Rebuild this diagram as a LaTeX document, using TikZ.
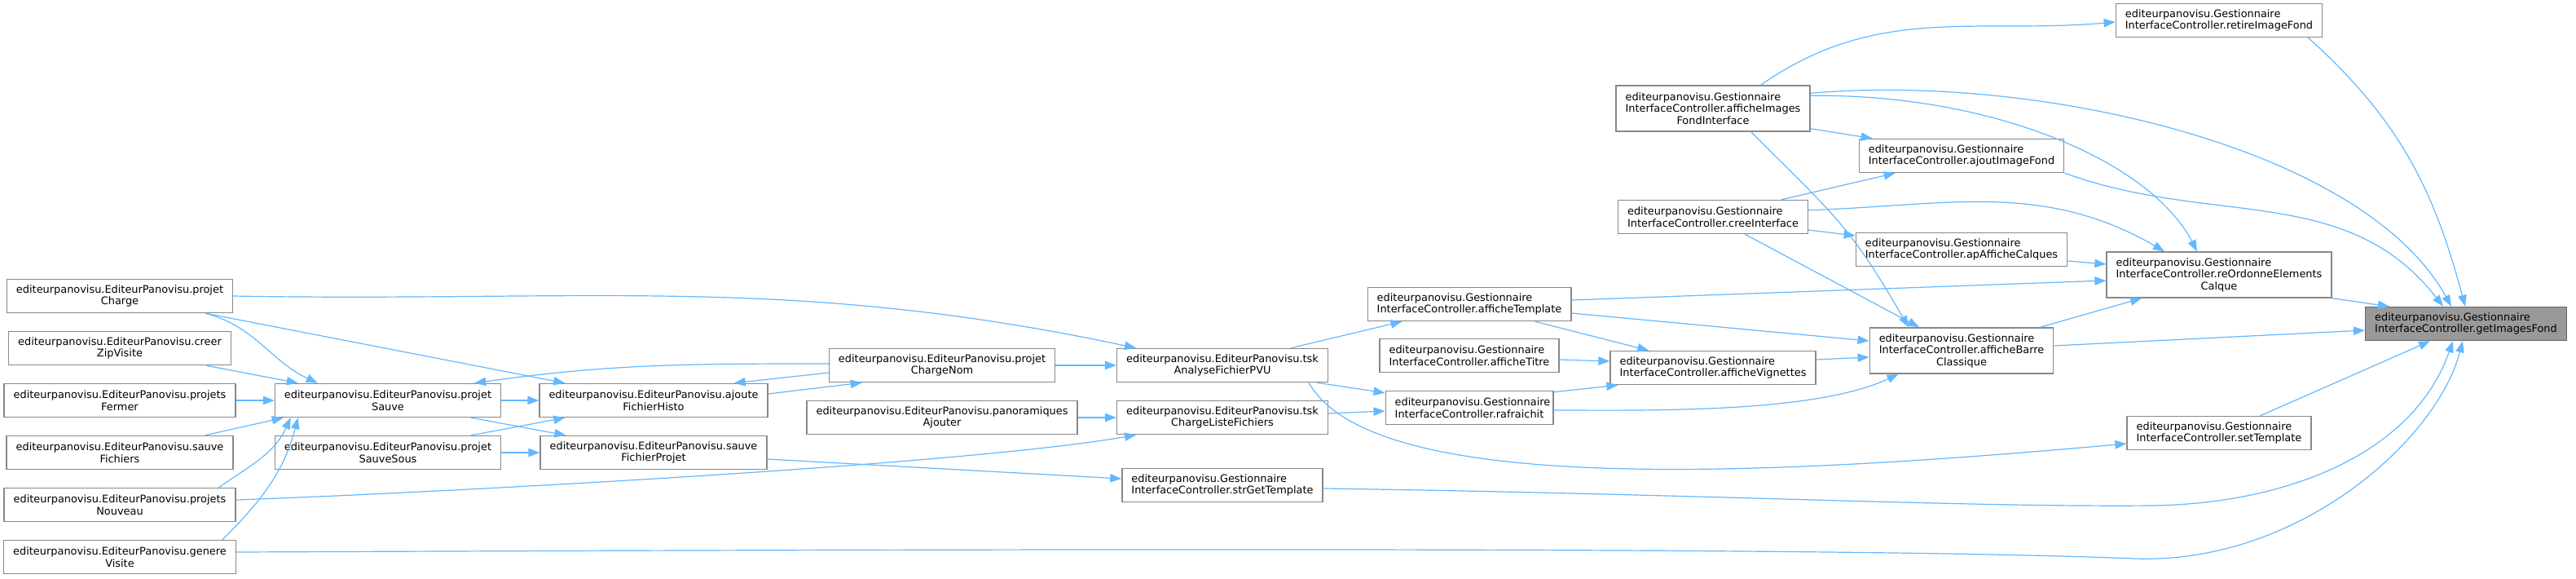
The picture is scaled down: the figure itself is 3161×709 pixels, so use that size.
\documentclass[tikz,border=0pt]{standalone}
\usepackage{fontspec}
\setmainfont{DejaVu Sans}
\usepackage{tikz}
\usetikzlibrary{arrows.meta, positioning, calc}

\definecolor{edgeblue}{HTML}{63B8FF}
\definecolor{nodeborder}{HTML}{888888}
\definecolor{targetborder}{HTML}{666666}
\definecolor{targetfill}{HTML}{999999}

% node labels: first lines left, last line centred
\newsavebox\lnbox
\newcommand\gic[1]{\global\setbox\lnbox=\hbox{InterfaceController.#1}\makebox[\wd\lnbox][l]{editeurpanovisu.Gestionnaire}\\\usebox\lnbox}
\newcommand\gicc[2]{\gic{#1}\\#2}
\newcommand\epv[2]{editeurpanovisu.EditeurPanovisu.#1\\#2}

\tikzset{
  fn/.style={draw=nodeborder, fill=white, line width=0.36pt, rectangle,
    inner xsep=2.875pt, inner ysep=1pt, minimum height=10.25pt, align=center,
    font=\fontsize{3.225pt}{3.625pt}\selectfont},
  fn3/.style={fn, minimum height=14pt},
  target/.style={fn, draw=targetborder, fill=targetfill},
  call/.style={draw=edgeblue, line width=0.3pt, -{Triangle[length=3.5pt,width=2.6pt]}}
}

\begin{document}
\begin{tikzpicture}[x=0.25pt,y=0.25pt]
            \useasboundingbox (0,0) rectangle (3161,-709);

            % Callers, first column
            \node[fn] (projetCharge) at (147,-363) {\epv{projet}{Charge}};
            \node[fn] (creerZipVisite) at (147,-427) {\epv{creer}{ZipVisite}};
            \node[fn] (projetsFermer) at (147,-491) {\epv{projets}{Fermer}};
            \node[fn] (sauveFichiers) at (147,-555) {\epv{sauve}{Fichiers}};
            \node[fn] (projetsNouveau) at (147,-619) {\epv{projets}{Nouveau}};
            \node[fn] (genereVisite) at (147,-683) {\epv{genere}{Visite}};

            % Save / history
            \node[fn] (projetSauve) at (476,-491) {\epv{projet}{Sauve}};
            \node[fn] (projetSauveSous) at (476,-555) {\epv{projet}{SauveSous}};
            \node[fn] (ajouteFichierHisto) at (802,-491) {\epv{ajoute}{FichierHisto}};
            \node[fn] (sauveFichierProjet) at (802,-555) {\epv{sauve}{FichierProjet}};
            \node[fn] (projetChargeNom) at (1156,-448) {\epv{projet}{ChargeNom}};
            \node[fn] (panoramiquesAjouter) at (1156,-512) {\epv{panoramiques}{Ajouter}};

            % Tasks
            \node[fn] (tskAnalyse) at (1500,-448) {\epv{tsk}{AnalyseFichierPVU}};
            \node[fn] (tskChargeListe) at (1500,-512) {\epv{tsk}{ChargeListeFichiers}};
            \node[fn] (strGetTemplate) at (1500,-595) {\gic{strGetTemplate}};

            % Interface controller
            \node[fn] (afficheTemplate) at (1803,-373) {\gic{afficheTemplate}};
            \node[fn] (afficheTitre) at (1803,-436) {\gic{afficheTitre}};
            \node[fn] (rafraichit) at (1803,-500) {\gic{rafraichit}};
            \node[fn3] (afficheImages) at (2102,-133) {\gicc{afficheImages}{FondInterface}};
            \node[fn] (creeInterface) at (2102,-266) {\gic{creeInterface}};
            \node[fn] (afficheVignettes) at (2102,-451) {\gic{afficheVignettes}};
            \node[fn] (ajoutImageFond) at (2407,-191) {\gic{ajoutImageFond}};
            \node[fn] (apAfficheCalques) at (2407,-306) {\gic{apAfficheCalques}};
            \node[fn3] (afficheBarre) at (2407,-430) {\gicc{afficheBarre}{Classique}};
            \node[fn] (retireImageFond) at (2723,-25) {\gic{retireImageFond}};
            \node[fn3] (reOrdonne) at (2723,-337) {\gicc{reOrdonneElements}{Calque}};
            \node[fn] (setTemplate) at (2723,-531) {\gic{setTemplate}};

            % Function of the graph
            \node[target] (getImagesFond) at (3026,-397) {\gic{getImagesFond}};

            % Calls into projetSauve
            \draw[call] ([xshift=-8.5pt]projetCharge.south east) to[out=-15,in=155,distance=16pt] ([xshift=13.25pt]projetSauve.north west);
            \draw[call] ([xshift=-7.75pt]creerZipVisite.south east) -- ([xshift=7.25pt]projetSauve.north west);
            \draw[call] (projetsFermer.east) -- (projetSauve.west);
            \draw[call] ([xshift=-8.75pt]sauveFichiers.north east) -- ([xshift=2.75pt]projetSauve.south west);
            \draw[call] ([xshift=-5.25pt]projetsNouveau.north east) to[out=35,in=-115,distance=12.25pt] ([xshift=5pt]projetSauve.south west);
            \draw[call] ([xshift=-4.25pt]genereVisite.north east) to[out=45,in=-105,distance=17.25pt] ([xshift=7.25pt]projetSauve.south west);
            \draw[call] ([yshift=0.5pt]projetChargeNom.west) to[out=180,in=8,distance=42.75pt] ([xshift=-8.25pt]projetSauve.north east);

            % Calls into history and save
            \draw[call] ([xshift=-8.5pt]projetCharge.south east) -- ([xshift=8pt]ajouteFichierHisto.north west);
            \draw[call] (projetSauve.east) -- (ajouteFichierHisto.west);
            \draw[call] ([xshift=-9.25pt]projetSauve.south east) -- ([xshift=8pt]sauveFichierProjet.north west);
            \draw[call] ([xshift=-9.25pt]projetSauveSous.north east) -- ([xshift=8pt]ajouteFichierHisto.south west);
            \draw[call] (projetSauveSous.east) -- (sauveFichierProjet.west);
            \draw[call] ([yshift=-2.25pt]projetChargeNom.west) -- ([xshift=-10.5pt]ajouteFichierHisto.north east);
            \draw[call] ([yshift=2pt]ajouteFichierHisto.east) -- ([xshift=10.25pt]projetChargeNom.south west);

            % Calls into the tasks
            \draw[call] (projetCharge.east) to[out=-1,in=168,distance=108.5pt] ([xshift=6pt]tskAnalyse.north west);
            \draw[call] (projetChargeNom.east) -- (tskAnalyse.west);
            \draw[call] (panoramiquesAjouter.east) -- (tskChargeListe.west);
            \draw[call] ([yshift=1.5pt]projetsNouveau.east) to[out=2,in=-170,distance=54pt] ([xshift=6pt]tskChargeListe.south west);
            \draw[call] ([yshift=-2pt]sauveFichierProjet.east) -- ([yshift=2pt]strGetTemplate.west);

            % Task calls
            \draw[call] ([xshift=-11.5pt]tskAnalyse.north east) -- ([xshift=10.75pt]afficheTemplate.south west);
            \draw[call] ([xshift=-3.5pt]tskAnalyse.south east) -- ([yshift=-0.75pt]rafraichit.north west);
            \draw[call] ([xshift=-6pt]tskAnalyse.south east) .. controls (1680,-600) and (2100,-590) .. ([yshift=-3.25pt]setTemplate.west);
            \draw[call] ([yshift=1.25pt]tskChargeListe.east) -- ([yshift=-1pt]rafraichit.west);

            % afficheTemplate, afficheTitre, rafraichit
            \draw[call] ([yshift=1.25pt]afficheTemplate.east) -- ([yshift=-1.75pt]reOrdonne.west);
            \draw[call] ([yshift=-2.75pt]afficheTemplate.east) -- ([yshift=3pt]afficheBarre.west);
            \draw[call] ([xshift=-11.25pt]afficheTemplate.south east) -- ([xshift=12pt]afficheVignettes.north west);
            \draw[call] ([yshift=-1.25pt]afficheTitre.east) -- ([yshift=2pt]afficheVignettes.west);
            \draw[call] ([yshift=-0.5pt]rafraichit.north east) -- ([xshift=2.5pt]afficheVignettes.south west);
            \draw[call] ([yshift=-0.75pt]rafraichit.east) to[out=0,in=-155,distance=28.75pt] ([xshift=9pt]afficheBarre.south west);
            \draw[call] ([yshift=2.5pt]afficheVignettes.east) -- ([yshift=-2pt]afficheBarre.west);

            % afficheImagesFondInterface and creeInterface
            \draw[call] ([xshift=-15.25pt]afficheImages.north east) to[out=35,in=185,distance=43.25pt] ([yshift=-0.5pt]retireImageFond.west);
            \draw[call] ([yshift=-2.5pt]afficheImages.north east) .. controls (2500,-90) and (2900,-180) .. ([xshift=-4.5pt]getImagesFond.north);
            \draw[call] ([yshift=-3.25pt]afficheImages.north east) .. controls (2450,-115) and (2640,-200) .. ([xshift=-6.75pt]reOrdonne.north);
            \draw[call] ([yshift=1pt]afficheImages.south east) -- ([xshift=4.25pt]ajoutImageFond.north west);
            \draw[call] ([xshift=-18.25pt]afficheImages.south east) to[out=-45,in=120,distance=36.25pt] ([xshift=-16.25pt]afficheBarre.north);
            \draw[call] ([xshift=-8.25pt]creeInterface.north east) -- ([xshift=11.25pt]ajoutImageFond.south west);
            \draw[call] ([yshift=-3.25pt]creeInterface.north east) to[out=2,in=150,distance=43pt] ([xshift=-16.75pt]reOrdonne.north);
            \draw[call] ([yshift=-4pt]creeInterface.east) -- ([yshift=4.25pt]apAfficheCalques.west);
            \draw[call] ([xshift=-19.5pt]creeInterface.south east) -- ([xshift=-13pt]afficheBarre.north);

            % Into reOrdonneElementsCalque
            \draw[call] ([yshift=-3.5pt]apAfficheCalques.east) -- ([yshift=3.25pt]reOrdonne.west);
            \draw[call] ([xshift=-4.25pt]afficheBarre.north east) -- ([xshift=-23.75pt]reOrdonne.south);

            % Into getImagesFond
            \draw[call] ([xshift=-4.5pt]retireImageFond.south east) to[out=-42,in=105,distance=37.5pt] ([xshift=-0.25pt]getImagesFond.north);
            \draw[call] (ajoutImageFond.south east) to[out=-20,in=128,distance=48.25pt] ([xshift=-7pt]getImagesFond.north);
            \draw[call] (reOrdonne.south east) -- ([xshift=7.5pt]getImagesFond.north west);
            \draw[call] ([yshift=1.5pt]afficheBarre.east) -- ([yshift=-2pt]getImagesFond.west);
            \draw[call] ([xshift=-15.75pt]setTemplate.north east) -- ([xshift=-11pt]getImagesFond.south);
            \draw[call] ([yshift=-1pt]strGetTemplate.east) .. controls (2100,-606) and (2400,-622) .. (2640,-620)
                .. controls (2800,-618) and (2960,-560) .. ([xshift=-4pt]getImagesFond.south);
            \draw[call] ([yshift=1.5pt]genereVisite.east) .. controls (1500,-672) and (2300,-672) .. (2620,-685)
                .. controls (2820,-692) and (2990,-540) .. ([xshift=-1pt]getImagesFond.south);
        \end{tikzpicture}
\end{document}
